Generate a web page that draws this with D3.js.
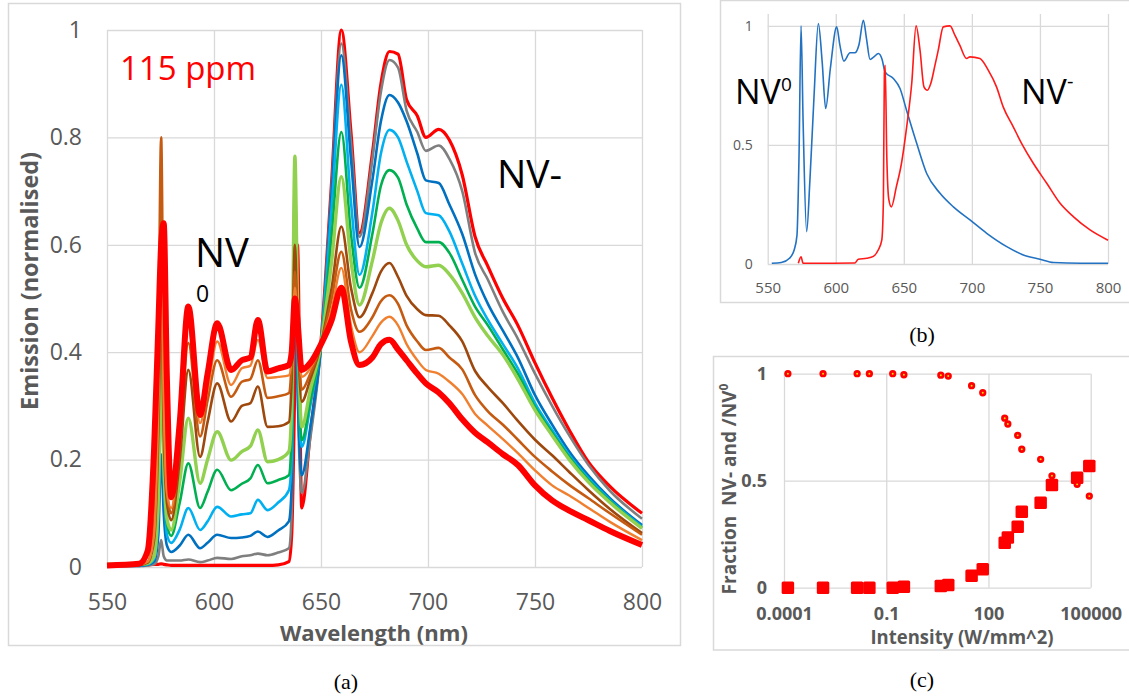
<!DOCTYPE html>
<html>
<head>
<meta charset="utf-8">
<script src="https://cdn.jsdelivr.net/npm/d3@7"></script>
<style>
  html, body { margin: 0; padding: 0; background: #fff; }
  svg { display: block; font-family: "Open Sans", sans-serif; }
</style>
</head>
<body>
<div id="chart"></div>
<script>
// ---------- panel (a): spectra, 115 ppm ----------
const wavelengthA = [550, 565, 569, 572, 574, 575.3, 576.5, 578, 580, 584,
  588, 593.5, 597, 601.5, 608, 613, 617, 620.5, 625, 630,
  635, 636.3, 637.8, 639, 641, 645, 650, 655, 659.5, 664,
  668, 674, 678, 682, 686, 690, 695, 699, 705, 710,
  716, 722, 728, 735, 742, 750, 758, 766, 775, 785, 800];

const thinRed = [0.003, 0.003, 0.004, 0.005, 0.005, 0.006, 0.005, 0.004, 0.003, 0.003,
  0.003, 0.003, 0.003, 0.003, 0.003, 0.003, 0.003, 0.003, 0.003, 0.004,
  0.01, 0.06, 0.35, 0.60, 0.11, 0.25, 0.42, 0.72, 1.0, 0.81,
  0.622, 0.77, 0.90, 0.96, 0.955, 0.87, 0.84, 0.80, 0.815, 0.795,
  0.73, 0.615, 0.56, 0.50, 0.45, 0.38, 0.315, 0.255, 0.195, 0.15, 0.10];
const grey = [0.002, 0.002, 0.003, 0.005, 0.02, 0.05, 0.02, 0.012, 0.012, 0.012,
  0.014, 0.009, 0.012, 0.017, 0.015, 0.02, 0.022, 0.025, 0.022, 0.027,
  0.035, 0.10, 0.72, 0.35, 0.138, 0.24, 0.41, 0.71, 0.975, 0.79,
  0.615, 0.76, 0.885, 0.944, 0.93, 0.85, 0.81, 0.775, 0.785, 0.76,
  0.70, 0.585, 0.535, 0.475, 0.425, 0.36, 0.30, 0.245, 0.19, 0.142, 0.09];
const blue = [0.002, 0.002, 0.004, 0.01, 0.06, 0.21, 0.10, 0.04, 0.028, 0.04,
  0.06, 0.035, 0.045, 0.06, 0.054, 0.055, 0.058, 0.066, 0.056, 0.068,
  0.085, 0.15, 0.60, 0.35, 0.171, 0.26, 0.41, 0.70, 0.953, 0.76,
  0.596, 0.72, 0.83, 0.879, 0.865, 0.83, 0.77, 0.72, 0.715, 0.675,
  0.62, 0.545, 0.49, 0.44, 0.39, 0.32, 0.265, 0.215, 0.17, 0.128, 0.078];
const lightBlue = [0.003, 0.003, 0.005, 0.015, 0.1, 0.357, 0.18, 0.06, 0.045, 0.07,
  0.11, 0.069, 0.085, 0.112, 0.094, 0.098, 0.10, 0.125, 0.106, 0.12,
  0.143, 0.2, 0.65, 0.4, 0.224, 0.30, 0.42, 0.67, 0.898, 0.68,
  0.544, 0.66, 0.77, 0.814, 0.80, 0.755, 0.70, 0.659, 0.655, 0.625,
  0.565, 0.505, 0.46, 0.415, 0.37, 0.305, 0.255, 0.208, 0.165, 0.125, 0.075];
const green = [0.004, 0.004, 0.006, 0.02, 0.12, 0.376, 0.2, 0.08, 0.058, 0.12,
  0.193, 0.11, 0.14, 0.181, 0.143, 0.155, 0.165, 0.19, 0.156, 0.162,
  0.171, 0.25, 0.73, 0.45, 0.236, 0.31, 0.415, 0.62, 0.81, 0.62,
  0.52, 0.62, 0.71, 0.739, 0.725, 0.675, 0.63, 0.605, 0.605, 0.585,
  0.535, 0.485, 0.45, 0.405, 0.36, 0.298, 0.25, 0.205, 0.162, 0.123, 0.073];
const lightGreen = [0.005, 0.005, 0.007, 0.02, 0.13, 0.40, 0.2, 0.09, 0.069, 0.16,
  0.277, 0.156, 0.2, 0.252, 0.199, 0.215, 0.225, 0.255, 0.196, 0.2,
  0.215, 0.30, 0.765, 0.50, 0.261, 0.33, 0.415, 0.57, 0.727, 0.57,
  0.488, 0.57, 0.64, 0.668, 0.645, 0.60, 0.57, 0.559, 0.562, 0.545,
  0.51, 0.465, 0.43, 0.395, 0.35, 0.292, 0.245, 0.2, 0.158, 0.12, 0.072];
const darkBrown = [0.004, 0.004, 0.008, 0.05, 0.25, 0.50, 0.25, 0.12, 0.087, 0.2,
  0.367, 0.205, 0.27, 0.342, 0.271, 0.30, 0.305, 0.336, 0.261, 0.262,
  0.27, 0.35, 0.60, 0.45, 0.308, 0.35, 0.415, 0.52, 0.634, 0.52,
  0.465, 0.51, 0.55, 0.566, 0.54, 0.505, 0.48, 0.469, 0.468, 0.45,
  0.42, 0.365, 0.335, 0.305, 0.272, 0.237, 0.208, 0.177, 0.143, 0.108, 0.063];
const orangeBrown = [0.004, 0.005, 0.01, 0.08, 0.4, 0.80, 0.35, 0.14, 0.10, 0.23,
  0.417, 0.243, 0.31, 0.385, 0.317, 0.345, 0.35, 0.385, 0.315, 0.318,
  0.324, 0.38, 0.55, 0.45, 0.33, 0.36, 0.415, 0.50, 0.587, 0.48,
  0.438, 0.465, 0.495, 0.506, 0.49, 0.45, 0.42, 0.404, 0.408, 0.39,
  0.368, 0.32, 0.29, 0.265, 0.237, 0.205, 0.178, 0.153, 0.128, 0.10, 0.06];
const lightOrange = [0.004, 0.005, 0.01, 0.06, 0.3, 0.60, 0.3, 0.14, 0.11, 0.25,
  0.45, 0.268, 0.33, 0.42, 0.339, 0.37, 0.375, 0.423, 0.352, 0.354,
  0.357, 0.39, 0.52, 0.45, 0.354, 0.37, 0.415, 0.48, 0.557, 0.45,
  0.40, 0.43, 0.455, 0.466, 0.45, 0.415, 0.385, 0.367, 0.36, 0.345,
  0.322, 0.285, 0.263, 0.238, 0.212, 0.18, 0.152, 0.133, 0.11, 0.084, 0.05];
const thickRed = [0.003, 0.006, 0.03, 0.22, 0.45, 0.60, 0.64, 0.35, 0.13, 0.27,
  0.485, 0.283, 0.36, 0.454, 0.367, 0.385, 0.39, 0.46, 0.364, 0.37,
  0.376, 0.40, 0.50, 0.46, 0.367, 0.38, 0.415, 0.46, 0.52, 0.42,
  0.376, 0.39, 0.415, 0.423, 0.405, 0.385, 0.36, 0.342, 0.325, 0.305,
  0.275, 0.25, 0.232, 0.21, 0.19, 0.152, 0.124, 0.105, 0.087, 0.067, 0.041];

const xTicksA = [550, 600, 650, 700, 750, 800];
const yTicksA = [0, 0.2, 0.4, 0.6, 0.8, 1];

// ---------- panel (b): reference NV0 / NV- spectra ----------
const wavelengthNV0 = [553, 560, 566, 569.5, 571.5, 573, 574.5, 576, 578.6, 581,
  584, 587.2, 590, 592.6, 596, 600.7, 603, 606, 610.5, 614,
  617, 620.3, 622.5, 625.2, 628, 631.3, 634, 636.2, 642.3, 647.2,
  652, 659.5, 666.8, 676.6, 686.4, 698.6, 710.9, 725.6, 737.8, 750,
  760, 780, 800];
const emissionNV0 = [0.003, 0.006, 0.024, 0.06, 0.12, 0.45, 1.0, 0.6, 0.136, 0.35,
  0.7, 1.01, 0.85, 0.653, 0.82, 0.996, 0.92, 0.852, 0.887, 0.887,
  0.92, 1.024, 0.95, 0.859, 0.87, 0.884, 0.86, 0.807, 0.779, 0.737,
  0.646, 0.506, 0.38, 0.297, 0.24, 0.185, 0.129, 0.073, 0.038, 0.02,
  0.006, 0.003, 0.003];
const wavelengthNVm = [572.5, 574.5, 576, 590, 614, 616.5, 622.7, 627.6, 631.3, 633.8,
  635, 635.7, 636.3, 637.5, 639, 640.8, 644.5, 648.2, 652.1, 655.8,
  659, 661.9, 664.8, 667.3, 669.8, 672.9, 675.3, 679, 683.9, 687.6,
  691.1, 696.1, 698.6, 705.9, 712, 718.1, 723, 730.4, 736.6, 745.1,
  755, 764.8, 774.5, 786.8, 800];
const emissionNVm = [0.003, 0.03, 0.003, 0.003, 0.004, 0.02, 0.024, 0.032, 0.06, 0.10,
  0.27, 0.8, 0.835, 0.45, 0.27, 0.24, 0.324, 0.42, 0.576, 0.758,
  1.0, 0.898, 0.744, 0.73, 0.758, 0.835, 0.898, 0.996, 1.0, 0.96,
  0.919, 0.863, 0.87, 0.863, 0.814, 0.744, 0.66, 0.576, 0.506, 0.423,
  0.339, 0.255, 0.199, 0.143, 0.10];
const xTicksB = [550, 600, 650, 700, 750, 800];
const yTicksB = [0, 0.5, 1];

// ---------- panel (c): charge-state fractions vs intensity ----------
const intensity = [1.3e-4, 1.4e-3, 0.014, 0.032, 0.155, 0.33, 4.0, 6.6, 32, 68,
  300, 370, 720, 950, 3400, 7300, 40000, 91000];
const fractionNV0 = [1, 1, 1, 1, 1, 0.995, 0.993, 0.989, 0.944, 0.911,
  0.792, 0.765, 0.712, 0.647, 0.6, 0.523, 0.483, 0.428];
const fractionNVm = [0, 0, 0, 0, 0, 0.005, 0.008, 0.013, 0.056, 0.086,
  0.21, 0.234, 0.285, 0.355, 0.397, 0.48, 0.514, 0.569];
const xTicksC = [1e-4, 0.1, 100, 1e5];
const xTickLabelsC = ["0.0001", "0.1", "100", "100000"];
const yTicksC = [0, 0.5, 1];

// series of panel (a), drawn bottom-up in this order
const seriesA = [
  {key: "thinRed", values: thinRed},
  {key: "grey", values: grey},
  {key: "blue", values: blue},
  {key: "lightBlue", values: lightBlue},
  {key: "green", values: green},
  {key: "lightGreen", values: lightGreen},
  {key: "darkBrown", values: darkBrown},
  {key: "orangeBrown", values: orangeBrown},
  {key: "lightOrange", values: lightOrange},
  {key: "thickRed", values: thickRed}
];
const styleA = {
  thinRed: {color: "#FF0000", width: 3.2},
  grey: {color: "#7F7F7F", width: 2.6},
  blue: {color: "#0070C0", width: 2.6},
  lightBlue: {color: "#00B0F0", width: 2.6},
  green: {color: "#00B050", width: 2.6},
  lightGreen: {color: "#92D050", width: 3.4},
  darkBrown: {color: "#9E480E", width: 2.6},
  orangeBrown: {color: "#C55A11", width: 2.6},
  lightOrange: {color: "#F08030", width: 2.4},
  thickRed: {color: "#FF0000", width: 6}
};

const GRID = "#d9d9d9";
const TEXT = "#595959";

const svg = d3.select("#chart").append("svg")
  .attr("width", 1129)
  .attr("height", 700);

function styleAxis(g, size, weight) {
  g.select(".domain").remove();
  g.selectAll(".tick line").attr("stroke", GRID).attr("stroke-width", 1.3);
  g.selectAll(".tick text")
    .attr("fill", TEXT)
    .style("font-family", "'Open Sans', sans-serif")
    .style("font-size", size + "px")
    .style("font-weight", weight);
}

// ================= panel (a) =================
const xA = d3.scaleLinear().domain([550, 800]).range([107, 642]);
const yA = d3.scaleLinear().domain([0, 1]).range([567, 30]);
const gA = svg.append("g");

gA.append("rect")
  .attr("x", 8.5).attr("y", 3.5)
  .attr("width", 672).attr("height", 642)
  .attr("fill", "none").attr("stroke", GRID).attr("stroke-width", 1.5);

gA.append("g")
  .attr("transform", "translate(0,567)")
  .call(d3.axisBottom(xA).tickValues(xTicksA).tickSize(-537).tickPadding(27).tickFormat(d3.format("d")))
  .call(g => styleAxis(g, 23, 400));

gA.append("g")
  .attr("transform", "translate(107,0)")
  .call(d3.axisLeft(yA).tickValues(yTicksA).tickSize(-535).tickPadding(25).tickFormat(d3.format("~g")))
  .call(g => styleAxis(g, 23, 400));

const lineA = d3.line()
  .x((d, i) => xA(wavelengthA[i]))
  .y(d => yA(d))
  .curve(d3.curveMonotoneX);

seriesA.forEach(s => {
  gA.append("path")
    .attr("d", lineA(s.values))
    .attr("fill", "none")
    .attr("stroke", styleA[s.key].color)
    .attr("stroke-width", styleA[s.key].width)
    .attr("stroke-linejoin", "round");
});

gA.append("text")
  .attr("x", 374).attr("y", 641)
  .attr("text-anchor", "middle")
  .attr("textLength", 188).attr("lengthAdjust", "spacingAndGlyphs")
  .style("font-size", "22px").style("font-weight", 700).attr("fill", TEXT)
  .text("Wavelength (nm)");

gA.append("text")
  .attr("transform", "translate(38,281) rotate(-90)")
  .attr("text-anchor", "middle")
  .attr("textLength", 258).attr("lengthAdjust", "spacingAndGlyphs")
  .style("font-size", "24px").style("font-weight", 700).attr("fill", TEXT)
  .text("Emission (normalised)");

gA.append("text")
  .attr("x", 120).attr("y", 80)
  .style("font-size", "33px").attr("fill", "#FF0000")
  .text("115 ppm");

gA.append("text")
  .attr("x", 195).attr("y", 267)
  .style("font-size", "40px").attr("fill", "#000")
  .text("NV");
gA.append("text")
  .attr("x", 196).attr("y", 302)
  .style("font-size", "23px").attr("fill", "#000")
  .text("0");

gA.append("text")
  .attr("x", 497).attr("y", 188)
  .style("font-size", "39px").attr("fill", "#000")
  .text("NV-");

svg.append("text")
  .attr("x", 346).attr("y", 689)
  .attr("text-anchor", "middle")
  .style("font-family", "'Liberation Serif', serif")
  .style("font-size", "22px").attr("fill", "#000")
  .text("(a)");

// ================= panel (b) =================
const xB = d3.scaleLinear().domain([550, 800]).range([767.7, 1108]);
const yB = d3.scaleLinear().domain([0, 1.05]).range([264, 14]);
const gB = svg.append("g");

gB.append("rect")
  .attr("x", 720.5).attr("y", 0.5)
  .attr("width", 430).attr("height", 302)
  .attr("fill", "none").attr("stroke", GRID).attr("stroke-width", 1.5);

gB.append("g")
  .attr("transform", "translate(0,264)")
  .call(d3.axisBottom(xB).tickValues(xTicksB).tickSize(-250).tickPadding(18).tickFormat(d3.format("d")))
  .call(g => styleAxis(g, 15, 400));

gB.append("g")
  .attr("transform", "translate(767.7,0)")
  .call(d3.axisLeft(yB).tickValues(yTicksB).tickSize(-340.3).tickPadding(15).tickFormat(d3.format("~g")))
  .call(g => styleAxis(g, 14, 400));

const lineNV0 = d3.line()
  .x((d, i) => xB(wavelengthNV0[i]))
  .y(d => yB(d))
  .curve(d3.curveMonotoneX);
const lineNVm = d3.line()
  .x((d, i) => xB(wavelengthNVm[i]))
  .y(d => yB(d))
  .curve(d3.curveMonotoneX);

gB.append("path")
  .attr("d", lineNV0(emissionNV0))
  .attr("fill", "none").attr("stroke", "#2372C2").attr("stroke-width", 1.6);
gB.append("path")
  .attr("d", lineNVm(emissionNVm))
  .attr("fill", "none").attr("stroke", "#FF1A1A").attr("stroke-width", 1.6);

const nv0Label = gB.append("text")
  .attr("x", 735).attr("y", 104)
  .style("font-size", "34px").attr("fill", "#000");
nv0Label.append("tspan").text("NV");
nv0Label.append("tspan").attr("dy", -13).style("font-size", "19px").text("0");

const nvmLabel = gB.append("text")
  .attr("x", 1021).attr("y", 104)
  .style("font-size", "34px").attr("fill", "#000");
nvmLabel.append("tspan").text("NV");
nvmLabel.append("tspan").attr("dy", -16).style("font-size", "20px").text("-");

svg.append("text")
  .attr("x", 922).attr("y", 342)
  .attr("text-anchor", "middle")
  .style("font-family", "'Liberation Serif', serif")
  .style("font-size", "22px").attr("fill", "#000")
  .text("(b)");

// ================= panel (c) =================
const xC = d3.scaleLog().domain([1e-4, 1e5]).range([784, 1090.7]);
const yC = d3.scaleLinear().domain([0, 1]).range([587.7, 373.7]);
const gC = svg.append("g");

gC.append("rect")
  .attr("x", 713.5).attr("y", 356.5)
  .attr("width", 430).attr("height", 293.5)
  .attr("fill", "none").attr("stroke", GRID).attr("stroke-width", 1.5);

gC.append("g")
  .attr("transform", "translate(0,587.7)")
  .call(d3.axisBottom(xC).tickValues(xTicksC).tickSize(-214).tickPadding(20)
    .tickFormat((d, i) => xTickLabelsC[i]))
  .call(g => styleAxis(g, 18, 700));

gC.append("g")
  .attr("transform", "translate(784,0)")
  .call(d3.axisLeft(yC).tickValues(yTicksC).tickSize(-306.7).tickPadding(17).tickFormat(d3.format("~g")))
  .call(g => styleAxis(g, 18, 700));

const pointsC = intensity.map((v, i) => ({x: v, nv0: fractionNV0[i], nvm: fractionNVm[i]}));

gC.selectAll(".sq")
  .data(pointsC)
  .enter()
  .append("rect")
  .attr("class", "sq")
  .attr("x", d => xC(d.x) - 6.25)
  .attr("y", d => yC(d.nvm) - 6.25)
  .attr("width", 12.5).attr("height", 12.5)
  .attr("rx", 1.5)
  .attr("fill", "#FF0000");

gC.selectAll(".dot")
  .data(pointsC)
  .enter()
  .append("circle")
  .attr("class", "dot")
  .attr("cx", d => xC(d.x))
  .attr("cy", d => yC(d.nv0))
  .attr("r", 2.3)
  .attr("fill", "#FFE000")
  .attr("stroke", "#FF0000")
  .attr("stroke-width", 2.7);

gC.append("text")
  .attr("x", 962).attr("y", 644)
  .attr("text-anchor", "middle")
  .attr("textLength", 183).attr("lengthAdjust", "spacingAndGlyphs")
  .style("font-size", "19px").style("font-weight", 700).attr("fill", TEXT)
  .text("Intensity (W/mm^2)");

const yTitleC = gC.append("text")
  .attr("transform", "translate(736,489) rotate(-90)")
  .attr("text-anchor", "middle")
  .style("font-size", "19px").style("font-weight", 700).attr("fill", TEXT)
  .style("white-space", "pre");
yTitleC.append("tspan").text("Fraction  NV- and /NV");
yTitleC.append("tspan").attr("dy", -8).style("font-size", "12px").text("0");

svg.append("text")
  .attr("x", 922).attr("y", 687)
  .attr("text-anchor", "middle")
  .style("font-family", "'Liberation Serif', serif")
  .style("font-size", "22px").attr("fill", "#000")
  .text("(c)");
</script>
</body>
</html>
